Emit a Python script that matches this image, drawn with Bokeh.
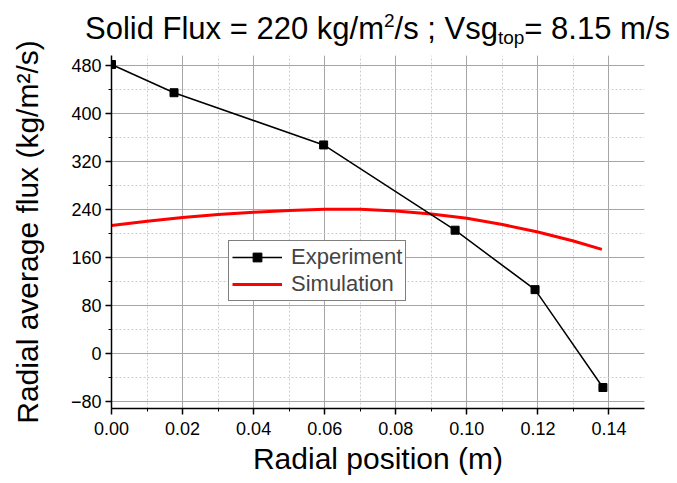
from bokeh.plotting import figure
from bokeh.models import (SingleIntervalTicker, PrintfTickFormatter, Range1d,
                          Legend, LegendItem, Div)
from bokeh.layouts import column
from bokeh.embed import file_html
from bokeh.resources import INLINE

# ---- data ----
exp_x = [0.0, 0.0176, 0.0597, 0.0967, 0.1192, 0.1383]
exp_y = [482, 435, 348, 206, 107, -56]

sim_x = [0.0, 0.01, 0.02, 0.03, 0.04, 0.05, 0.06, 0.07, 0.08, 0.09, 0.10, 0.11, 0.12, 0.13, 0.138]
sim_y = [214, 221, 227, 232, 236, 239, 241, 241, 238, 233, 226, 215.5, 203, 188, 174]

x_label = "Radial position (m)"
y_label = "Radial average flux (kg/m\u00b2/s)"
series_names = ["Experiment", "Simulation"]

FONT = "Liberation Sans"

title_html = (
    '<div style="padding-left:85px; font-family:\'Liberation Sans\', Arial, sans-serif; '
    'font-size:31px; line-height:42px; color:black; white-space:nowrap;">'
    'Solid Flux = 220 kg/m<sup style="font-size:19px; vertical-align:12px;">2</sup>/s ; '
    'Vsg<sub style="font-size:19px; vertical-align:-5px;">top</sub>= 8.15 m/s</div>'
)
title_div = Div(text=title_html, width=677, height=45, margin=(0, 0, 0, 0))

# full-height figure, pulled up under the title block
p = figure(width=677, height=483, x_range=Range1d(0, 0.15), y_range=Range1d(-91, 497),
           output_backend="svg", toolbar_location=None,
           min_border_left=111, min_border_right=33, min_border_top=55, min_border_bottom=75)
p.margin = (-45, 0, 0, 0)
p.outline_line_color = None
p.background_fill_color = "white"
p.border_fill_color = None
p.border_fill_alpha = 0

xt = SingleIntervalTicker(interval=0.02, num_minor_ticks=2)
yt = SingleIntervalTicker(interval=80, num_minor_ticks=2)
p.xaxis.ticker = xt
p.xgrid.ticker = xt
p.yaxis.ticker = yt
p.ygrid.ticker = yt
p.xaxis.formatter = PrintfTickFormatter(format="%.2f")

for g in (p.xgrid, p.ygrid):
    g.grid_line_color = "#a6a6a6"
    g.grid_line_width = 1
    g.minor_grid_line_color = "#cccccc"
    g.minor_grid_line_dash = "2 2"
    g.minor_grid_line_width = 1

for ax in (p.xaxis, p.yaxis):
    ax.axis_line_width = 1.5
    ax.axis_line_color = "black"
    ax.major_tick_line_width = 1.5
    ax.major_tick_out = 6
    ax.major_tick_in = 0
    ax.minor_tick_out = 3
    ax.minor_tick_in = 0
    ax.minor_tick_line_width = 1
    ax.major_label_text_font = FONT
    ax.major_label_text_font_size = "18px"
    ax.major_label_text_color = "black"
    ax.axis_label_text_font = FONT
    ax.axis_label_text_font_size = "30px"
    ax.axis_label_text_font_style = "normal"
    ax.axis_label_text_color = "black"

p.xaxis.axis_label = x_label
p.yaxis.axis_label = y_label
p.xaxis.major_label_standoff = 7
p.yaxis.major_label_standoff = 4
p.xaxis.axis_label_standoff = 4
p.yaxis.axis_label_standoff = 24

r_sim = p.line(sim_x, sim_y, line_color="red", line_width=3)
r_exp_line = p.line(exp_x, exp_y, line_color="black", line_width=1.5)
r_exp_pts = p.scatter(exp_x, exp_y, marker="square", size=8, color="black")

legend = Legend(items=[LegendItem(label=series_names[0], renderers=[r_exp_line, r_exp_pts]),
                       LegendItem(label=series_names[1], renderers=[r_sim])],
                location=(117, 107))
legend.border_line_color = "black"
legend.border_line_width = 1
legend.background_fill_alpha = 1
legend.label_text_font = FONT
legend.label_text_font_size = "22px"
legend.glyph_width = 50
legend.glyph_height = 22
legend.label_standoff = 9
legend.padding = 3
legend.spacing = 1
legend.margin = 0
p.add_layout(legend)

layout = column(title_div, p, spacing=0)

open("out.html", "w").write(file_html(layout, INLINE))
